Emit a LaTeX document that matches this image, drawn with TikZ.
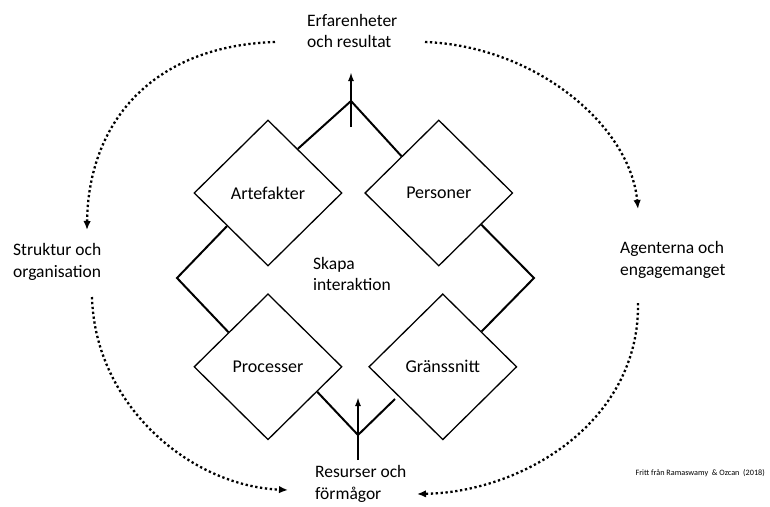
\documentclass[tikz,border=0pt]{standalone}
\usepackage{fontspec}
\setmainfont{Carlito}
\usetikzlibrary{shapes.geometric,positioning,calc,arrows.meta}

\tikzset{
  box/.style={draw, diamond, aspect=1, minimum width=148pt, minimum height=146pt,
    inner sep=0pt, line width=1.3pt, font=\fontsize{18}{22}\selectfont},
  txt/.style={align=left, inner sep=0pt, font=\fontsize{17.5}{21.5}\selectfont},
  link/.style={line width=2pt},
  push/.style={line width=2pt, -{Latex[length=9pt,width=6pt]}},
  flow/.style={line width=2.3pt, dash pattern=on 2.3pt off 2.6pt,
    -{Latex[length=9pt,width=7.5pt]}},
}

\begin{document}
\begin{tikzpicture}[x=1pt, y=-1pt]
\useasboundingbox (0,0) rectangle (770,506);

% Diamonds
\node[box]                    (art) at (268,193) {Artefakter};
\node[box, right=21.5pt of art] (per) {Personer};
\node[box, below=26.5pt of art] (pro) {Processer};
\node[box, right=25.5pt of pro] (gra) {Gränssnitt};

% Texts
\node[txt, anchor=west] (exp) at (307,31)  {Erfarenheter\\och resultat};
\node[txt, anchor=west] (str) at (13,262)  {Struktur och\\organisation};
\node[txt, anchor=west] (age) at (620,260) {Agenterna och\\engagemanget};
\node[txt, anchor=west] (res) at (315,484) {Resurser och\\förmågor};
\node[txt, anchor=west] (ska) at (313,274) {Skapa\\interaktion};
\node[anchor=east, inner sep=0pt, font=\fontsize{8.2}{10}\selectfont]
  (src) at (765,473) {Fritt från Ramaswamy \ \& Ozcan \ (2018)};

% Links between the diamonds
\coordinate (apexT) at (351,101);
\coordinate (apexL) at (177,278);
\coordinate (apexR) at (534,278);
\coordinate (apexB) at (358,435);
\draw[link] ($(art.north)!0.4!(art.east)$) -- (apexT) -- ($(per.north)!0.5!(per.west)$);
\draw[link] ($(art.west)!0.45!(art.south)$) -- (apexL) -- ($(pro.west)!0.47!(pro.north)$);
\draw[link] ($(per.east)!0.43!(per.south)$) -- (apexR) -- ($(gra.east)!0.48!(gra.north)$);
\draw[link] ($(pro.east)!0.34!(pro.south)$) -- (apexB) -- ++(37,-36);

% Arrows out and in
\draw[push] ([yshift=-26pt]apexT) -- ([yshift=29pt]apexT);
\draw[push] ([yshift=-25pt]apexB) -- ([yshift=38pt]apexB);

% Dotted cycle
\coordinate (tl) at (275,42);
\coordinate (tr) at (425,42);
\coordinate (ml) at (87,230);
\coordinate (mr) at (638,209);
\coordinate (ll) at (92,297);
\coordinate (lr) at (638,303);
\coordinate (bl) at (288,490);
\coordinate (br) at (417,494);
\draw[flow] (tl) .. controls (150,46) and (88,125) .. (ml);
\draw[flow] (tr) .. controls (535,46) and (630,125) .. (mr);
\draw[flow] (ll) .. controls (95,405) and (190,486) .. (bl);
\draw[flow] (lr) .. controls (640,420) and (525,492) .. (br);

\end{tikzpicture}
\end{document}
